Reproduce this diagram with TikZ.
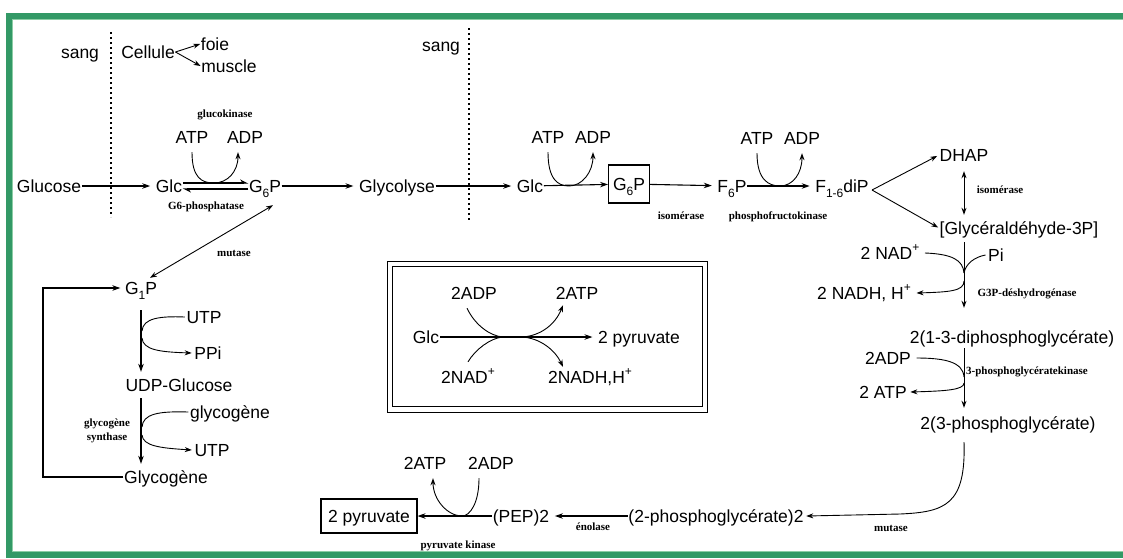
\documentclass[tikz,border=0pt]{standalone}
\usepackage{fontspec}
\setmainfont{Liberation Sans}
\newfontfamily\enzfont{Liberation Serif}
\usetikzlibrary{arrows.meta,calc}
\definecolor{frgreen}{RGB}{51,153,102}
\definecolor{frlight}{RGB}{140,205,165}
\newcommand\sbs[1]{\raisebox{-5pt}{\fontsize{12}{12}\selectfont #1}}
\newcommand\sps[1]{\raisebox{8pt}{\fontsize{12}{12}\selectfont #1}}
\begin{document}
\begin{tikzpicture}[x=1pt,y=-1pt,
 lbl/.style={font=\fontsize{17.5}{20}\selectfont, inner sep=0.5pt, text height=13pt, text depth=0pt},
 enz/.style={font=\enzfont\bfseries\fontsize{11}{12}\selectfont, inner sep=0pt, text height=8pt, text depth=0pt},
 marr/.style={-{Stealth[length=8pt,width=5.5pt]}, line width=1.1pt},
 gap/.style={shorten >=5pt},
 tarr/.style={-{Stealth[length=7pt,width=5pt]}, line width=0.9pt},
 dblarr/.style={{Stealth[length=7pt,width=5pt]}-{Stealth[length=7pt,width=5pt]}, line width=0.9pt},
 harp/.style={-{Stealth[left,length=7pt,width=7pt]}, line width=1.1pt},
 cur/.style={line width=0.9pt},
 dots/.style={line width=1.3pt, dash pattern=on 1.6pt off 3.4pt},
]
\useasboundingbox (0,0) rectangle (1123,558);
% frame
\draw[frgreen, line width=6pt] (1125,16) -- (9,16) -- (9,555) -- (1125,555);
\draw[frlight, line width=1.2pt] (1125,19.6) -- (12.6,19.6) -- (12.6,551.4) -- (1125,551.4);

% top labels
\node[lbl] (sang1) at (80,52) {sang};
\node[lbl] (cellule) at (148,52) {Cellule};
\node[lbl] (foie) at (215,44) {foie};
\node[lbl] (muscle) at (229,66) {muscle};
\draw[tarr] (cellule.east) -- (foie.west);
\draw[tarr] (cellule.east) -- (muscle.west);
\node[lbl] (sang2) at (441,45) {sang};
\coordinate (d1a) at (111,32); \coordinate (d1b) at (111,217);
\coordinate (d2a) at (469,28); \coordinate (d2b) at (469,222);
\draw[dots] (d1a) -- (d1b);
\draw[dots] (d2a) -- (d2b);

% main row
\node[lbl] (glucose) at (49,186) {Glucose};
\node[lbl] (glc1) at (169,186) {Glc};
\node[lbl] (g6p1) at (265,186) {G\sbs{6}P};
\node[lbl] (glycolyse) at (397,186) {Glycolyse};
\node[lbl] (glc2) at (530,186) {Glc};
\node[lbl, draw, line width=1.1pt, minimum width=41pt, minimum height=38pt] (g6p2) at (629,184) {G\sbs{6}P};
\node[lbl] (f6p) at (732,186) {F\sbs{6}P};
\node[lbl] (f16) at (842,186) {F\sbs{1-6}diP};

\draw[marr,gap] (glucose) -- (glc1);
\draw[harp] ([yshift=3pt]glc1.east) -- ([yshift=3pt]g6p1.west);
\draw[harp] ([yshift=-3pt]g6p1.west) -- ([yshift=-3pt]glc1.east);
\draw[marr,gap] (g6p1) -- (glycolyse);
\draw[marr,gap] (glycolyse) -- (glc2);
\draw[marr] (glc2) -- (g6p2);
\draw[marr,gap] (g6p2) -- (f6p);
\draw[marr,gap] (f6p) -- (f16);

% cofactors 1
\node[lbl] (atp1) at (192,137) {ATP};
\node[lbl] (adp1) at (245,137) {ADP};
\node[enz] (gk) at (225,113) {glucokinase};
\node[enz] (g6pase) at (206,205) {G6-phosphatase};
\coordinate (cm1) at (214,183);
\draw[cur] ([yshift=-8pt]atp1.south) .. controls +(0,26) and +(-12,0) .. (cm1);
\draw[tarr] (cm1) .. controls +(13,0) and +(0,20) .. ([shift={(-7,8)}]adp1.south);

% cofactors 2
\node[lbl] (atp2) at (548,137) {ATP};
\node[lbl] (adp2) at (593,137) {ADP};
\coordinate (cm2) at (569,186);
\draw[cur] ([yshift=-8pt]atp2.south) .. controls +(0,26) and +(-12,0) .. (cm2);
\draw[tarr] (cm2) .. controls +(13,0) and +(0,20) .. ([yshift=-8pt]adp2.south);
\node[enz] (isom1) at (681,215) {isomérase};

% cofactors 3
\node[lbl] (atp3) at (757,138) {ATP};
\node[lbl] (adp3) at (802,138) {ADP};
\coordinate (cm3) at (780,186);
\draw[cur] ([yshift=-8pt]atp3.south) .. controls +(0,26) and +(-12,0) .. (cm3);
\draw[tarr] (cm3) .. controls +(13,0) and +(0,20) .. ([yshift=-8pt]adp3.south);
\node[enz] (pfk) at (778,215) {phosphofructokinase};

% right column
\node[lbl] (dhap) at (964,155) {DHAP};
\node[lbl] (glyc) at (1019,228) {[Glycéraldéhyde-3P]};
\coordinate (fork) at (872,190);
\draw[tarr, shorten >=2pt] (fork) -- (dhap.west);
\draw[tarr, shorten >=1pt] (fork) -- (glyc.west);
\draw[dblarr] ([yshift=-9pt]dhap.south) -- ([yshift=6pt]dhap.south |- glyc.north);
\node[enz] (isom2) at (1000,189) {isomérase};

\node[lbl] (nad) at (890,253) {2 NAD\sps{+}};
\node[lbl] (pi) at (996,255) {Pi};
\node[lbl] (nadh) at (864,293) {2 NADH, H\sps{+}};
\node[enz] (g3p) at (1027,292) {G3P-déshydrogénase};
\node[lbl] (diph) at (1012,337) {2(1-3-diphosphoglycérate)};
\coordinate (j1) at (964,273);
\coordinate (j1b) at (964,281);
\draw[tarr] ([yshift=-7pt]glyc.south -| dhap.south) -- ([yshift=22pt]dhap.south |- diph.north);
\draw[cur] ([xshift=5pt]nad.east) .. controls (952,254) and (963,260) .. (j1);
\draw[cur] ([xshift=-2pt]pi.west) .. controls (975,257) and (966,263) .. (j1);
\draw[tarr] (j1b) .. controls (964,291) and (950,292) .. ([xshift=5pt]nadh.east);

\node[lbl] (adp4) at (888,358) {2ADP};
\node[lbl] (atp4) at (883,392) {2 ATP};
\node[enz] (pgk) at (1027,370) {3-phosphoglycératekinase};
\node[lbl] (p3) at (1008,423) {2(3-phosphoglycérate)};
\coordinate (j2) at (964,377);
\coordinate (j2b) at (964,383);
\draw[tarr] ([yshift=-4pt]dhap.south |- diph.south) -- ([yshift=8pt]dhap.south |- p3.north);
\draw[cur] ([xshift=5pt]adp4.east) .. controls (945,358) and (963,362) .. (j2);
\draw[tarr] (j2b) .. controls (964,390) and (945,391) .. ([xshift=3pt]atp4.east);

% bottom row
\node[lbl] (pg2) at (716,516) {(2-phosphoglycérate)2};
\node[lbl] (pep) at (521,516) {(PEP)2};
\node[lbl, draw, line width=1.1pt, minimum width=96pt, minimum height=34pt] (pyr) at (369,516) {2 pyruvate};
\node[enz] (mut2) at (891,527) {mutase};
\node[enz] (enol) at (593,526) {énolase};
\node[enz] (pk) at (458,544) {pyruvate kinase};
\coordinate (bc) at (900,514);
\draw[tarr] ([yshift=-12pt]dhap.south |- p3.south) .. controls (966,505) and (945,512) .. (bc) -- ([xshift=2pt]pg2.east);
\draw[marr,gap] (pg2) -- (pep);
\draw[marr] (pep) -- (pyr);
\node[lbl] (atp5) at (425,463) {2ATP};
\node[lbl] (adp5) at (491,463) {2ADP};
\coordinate (cm5) at (462,516);
\draw[cur] ([shift={(-12,8)}]adp5.south) .. controls +(0,25) and +(8,0) .. (cm5);
\draw[tarr] (cm5) .. controls +(-14,0) and +(0,22) .. ([shift={(8,8)}]atp5.south);

% summary box
\draw[line width=1pt] (387,261) rectangle (707,412);
\draw[line width=1pt] (392,266) rectangle (702,406);
\node[lbl] (glc3) at (426,337) {Glc};
\node[lbl] (pyr2) at (639,337) {2 pyruvate};
\node[lbl] (adp6) at (474,293) {2ADP};
\node[lbl] (atp6) at (577,293) {2ATP};
\node[lbl] (nad6) at (468,377) {2NAD\sps{+}};
\node[lbl] (nadh6) at (590,377) {2NADH,H\sps{+}};
\coordinate (ja) at (503,337);
\coordinate (jb) at (522,337);
\draw[marr,gap] (glc3) -- (pyr2);
\draw[cur] ([shift={(-7,8)}]adp6.south) .. controls (475,325) and (490,336) .. (ja);
\draw[cur] ([yshift=8pt]nad6.north) .. controls (475,350) and (490,338) .. (ja);
\draw[tarr] (jb) .. controls (540,336) and (555,325) .. ([shift={(-14,5)}]atp6.south);
\draw[tarr] (jb) .. controls (540,338) and (555,350) .. ([shift={(-27,-3)}]nadh6.north);

% left column
\node[lbl] (g1p) at (141,288) {G\sbs{1}P};
\node[enz] (mut1) at (234,252) {mutase};
\draw[dblarr] ([shift={(8,12)}]g6p1.south) -- ([shift={(9,-3)}]g1p.north);
\node[lbl] (udp) at (179,385) {UDP-Glucose};
\node[lbl] (glycogene) at (166,477) {Glycogène};
\node[lbl] (utp1) at (204,317) {UTP};
\node[lbl] (ppi) at (208,353) {PPi};
\node[lbl] (glycog2) at (230,412) {glycogène};
\node[lbl] (utp2) at (212,450) {UTP};
\node[enz, align=center, text height=, font=\enzfont\bfseries\fontsize{11}{14}\selectfont] (gs) at (107,430) {glycogène\\synthase};
\coordinate (lp) at (43,380);
\draw[marr, shorten >=4pt] (glycogene.west) -| (lp) |- (g1p.west);
\draw[marr] ([yshift=-15pt]g1p.south) -- ([yshift=6pt]g1p.south |- udp.north);
\draw[marr] ([yshift=-6pt]g1p.south |- udp.south) -- ([yshift=6pt]g1p.south |- glycogene.north);
\coordinate (k1) at (142,331); \coordinate (k2) at (142,338);
\coordinate (k3) at (142,427); \coordinate (k4) at (142,435);
\draw[cur] ([xshift=-1pt]utp1.west) .. controls (160,316) and (143,318) .. (k1);
\draw[tarr] (k2) .. controls (143,350) and (160,352) .. ([xshift=-2pt]ppi.west);
\draw[cur] ([xshift=-1pt]glycog2.west) .. controls (158,411) and (143,414) .. (k3);
\draw[tarr] (k4) .. controls (143,446) and (160,448) .. ([xshift=-2pt]utp2.west);
\end{tikzpicture}
\end{document}
